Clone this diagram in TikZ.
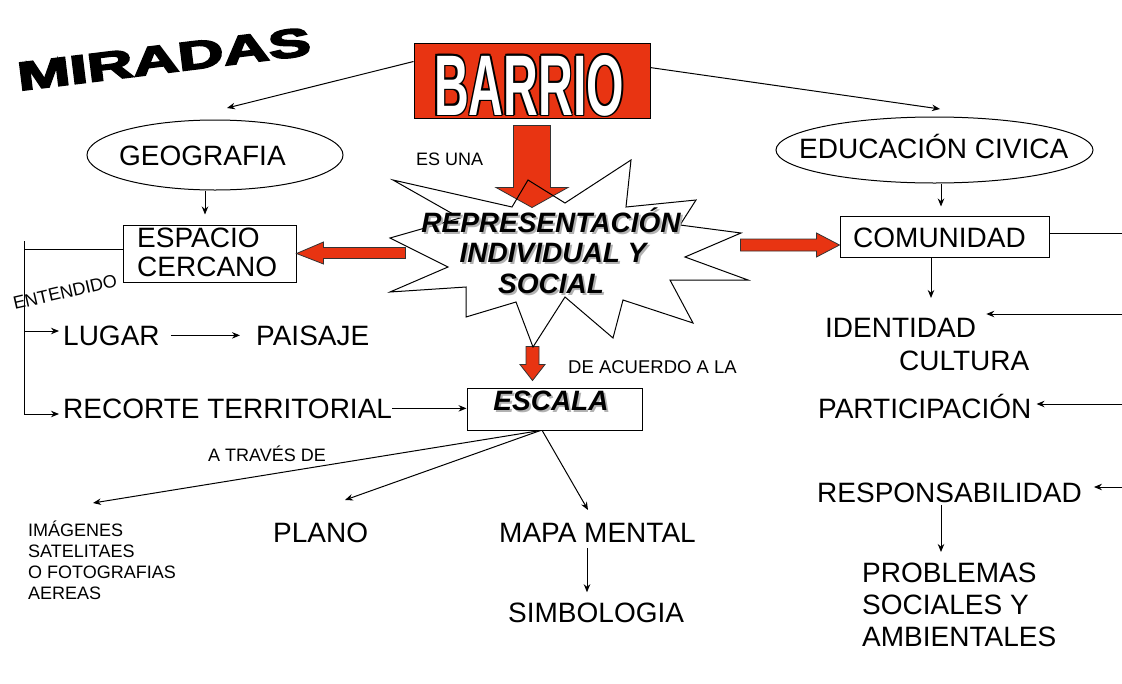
\documentclass[tikz,border=0pt]{standalone}
\usepackage{fontspec}
\setmainfont{Liberation Sans}
\newfontfamily\heavyfont{Liberation Sans}[BoldFeatures={FakeBold=4}]
\usetikzlibrary{arrows.meta,calc,shapes.geometric}
\definecolor{barred}{RGB}{232,52,18}
\begin{document}
\begin{tikzpicture}[x=1pt,y=-1pt,
  txt/.style={inner sep=0pt,anchor=base west,font=\fontsize{28}{32}\selectfont},
  small/.style={inner sep=0pt,anchor=base west,font=\fontsize{18}{21}\selectfont},
  bi/.style={inner sep=0pt,anchor=base,font=\fontsize{28}{32}\selectfont\bfseries\itshape},
  box/.style={draw,line width=1pt,inner sep=0pt},
  ell/.style={draw,ellipse,line width=1pt,inner sep=0pt},
  arr/.style={line width=1pt,-{Stealth[length=8pt,width=6.5pt]}},
  conn/.style={line width=1pt},
  redarrow/.style={fill=barred,draw=black!80,line width=0.8pt,line join=miter},
  barriot/.style={inner sep=0pt,anchor=base,font=\fontsize{86}{86}\selectfont\bfseries,xscale=0.56}
]
\useasboundingbox (0,0) rectangle (1122,683);

% title
\node[inner sep=0pt,font=\heavyfont\bfseries\fontsize{40}{40}\selectfont,rotate=7,xscale=1.58] (miradas) at (164,59) {MIRADAS};

% BARRIO
\node[box,fill=barred,minimum width=236,minimum height=75] (barrio) at (532,80.5) {};
\foreach \dx/\dy in {-1.6/0,1.6/0,0/-1.6,0/1.6,-1.1/-1.1,1.1/1.1,-1.1/1.1,1.1/-1.1}
  \node[barriot,text=black] at ($(529,115)+(\dx,\dy)$) {BARRIO};
\node[barriot,text=white] (barriotxt) at (529,115) {BARRIO};

% ellipses
\node[ell,minimum width=256,minimum height=70] (geo) at (215,155) {};
\node[txt] (geotxt) at (119,165) {GEOGRAFIA};
\node[ell,minimum width=317,minimum height=66] (edu) at (934.5,150) {};
\node[txt] (edutxt) at (799,158) {EDUCACIÓN CIVICA};

% boxes
\node[box,minimum width=173,minimum height=57] (espacio) at (209.5,253.5) {};
\node[txt] (esp1) at (137,247) {ESPACIO};
\node[txt] (esp2) at (137,276) {CERCANO};
\node[box,minimum width=209,minimum height=41] (comunidad) at (944.5,236.5) {};
\node[txt] (comtxt) at (853,247) {COMUNIDAD};
\node[box,minimum width=175,minimum height=42] (escala) at (554.5,409) {};

% red block arrows
\draw[redarrow] ($(barrio.south)+(-18.5,7)$) -- ++(37,0) -- ++(0,62) -- ++(17.5,0) -- ++(-36,20) -- ++(-36,-20) -- ++(17.5,0) -- cycle;
\draw[redarrow] (espacio.east) -- ++(27,-11.5) -- ++(0,5.5) -- ++(82,0) -- ++(0,11) -- ++(-82,0) -- ++(0,5.5) -- cycle;
\draw[redarrow] ($(comunidad.west)+(0,8.5)$) -- ++(-23,-12) -- ++(0,6) -- ++(-76,0) -- ++(0,12) -- ++(76,0) -- ++(0,6) -- cycle;
\draw[redarrow] ($(escala.north west)+(66,-7)$) -- ++(-12.5,-16) -- ++(6,0) -- ++(0,-18) -- ++(13,0) -- ++(0,18) -- ++(6,0) -- cycle;

% star
\draw[line width=1pt,line join=miter] (393,180) -- (512,207) -- (528,180) -- (565,203) -- (631,160) -- (626,207) -- (696,200) -- (680,225) -- (741,233) -- (685,257) -- (748,280) -- (670,280) -- (693,323) -- (623,300) -- (613,338) -- (565,297) -- (533,347) -- (516,302) -- (466,317) -- (466,287) -- (390,292) -- (448,267) -- (390,238) -- (460,218) -- cycle;
\node[bi,text=black!30] at (553,234) {REPRESENTACIÓN};
\node[bi,text=black!30] at (555,264) {INDIVIDUAL Y};
\node[bi,text=black!30] at (553,295) {SOCIAL};
\node[bi] (rep1) at (551,232) {REPRESENTACIÓN};
\node[bi] (rep2) at (553,262) {INDIVIDUAL Y};
\node[bi] (rep3) at (551,293) {SOCIAL};
\node[bi,text=black!30] at (553,412) {ESCALA};
\node[bi] (escalatxt) at (551,410) {ESCALA};

% small labels
\node[small] (esuna) at (416,165) {ES UNA};
\node[small,font=\fontsize{18.5}{21}\selectfont] (deacuerdo) at (568,373) {DE ACUERDO A LA};
\node[small] (atraves) at (208,461) {A TRAVÉS DE};
\node[inner sep=0pt,font=\fontsize{18}{18}\selectfont,rotate=13] (entendido) at (65,292) {ENTENDIDO};

% left texts
\node[txt] (lugar) at (63,345) {LUGAR};
\node[txt] (paisaje) at (256,345) {PAISAJE};
\node[txt] (recorte) at (63,418) {RECORTE TERRITORIAL};

% right texts
\node[txt] (identidad) at (825,337) {IDENTIDAD};
\node[txt] (cultura) at (899,370) {CULTURA};
\node[txt] (participacion) at (818,418) {PARTICIPACIÓN};
\node[txt] (responsabilidad) at (817,502) {RESPONSABILIDAD};
\node[txt,anchor=north west,align=left] (problemas) at (862,563) {PROBLEMAS\\SOCIALES Y\\AMBIENTALES};

% bottom texts
\node[small,anchor=north west,align=left] (imagenes) at (28,521) {IMÁGENES\\SATELITAES\\O FOTOGRAFIAS\\AEREAS};
\node[txt] (plano) at (273,542) {PLANO};
\node[txt] (mapa) at (499,542) {MAPA MENTAL};
\node[txt] (simb) at (508,622) {SIMBOLOGIA};

% coordinates
\coordinate (geotip) at (227,108);
\coordinate (edutip) at (940,109);
\coordinate (gx) at (205,0);
\coordinate (ex) at (941,0);
\coordinate (brjoin) at (24,249);
\coordinate (brtop) at (24,241);
\coordinate (brl) at (24,331);
\coordinate (brbot) at (24,414);
\coordinate (imgtip) at (93,503);
\coordinate (planotip) at (345,500);
\coordinate (mapatip) at (588,510);
\coordinate (msx) at (587,0);
\coordinate (idtip) at (931,298);
\coordinate (rc) at (1122,233);
\coordinate (r1) at (1122,314);
\coordinate (r2) at (1122,404);
\coordinate (r3) at (1122,487);
\coordinate (rpx) at (941,0);

% connectors
\draw[arr] ($(barrio.north west)!0.25!(barrio.south west)$) -- (geotip);
\draw[arr] ($(barrio.north east)!0.33!(barrio.south east)$) -- (edutip);
\draw[arr,shorten >=10pt] (gx |- geo.south) -- (gx |- espacio.north);
\draw[arr,shorten >=9pt] (ex |- edu.south) -- (ex |- comunidad.north);
\draw[conn] (espacio.west |- brjoin) -- (brjoin);
\draw[conn] (brtop) -- (brbot);
\draw[arr,shorten >=4pt] (brl) -- (brl -| lugar.west);
\draw[arr,shorten >=4pt] (brbot) -- (brbot -| recorte.west);
\draw[arr,shorten <=11pt,shorten >=16pt] (lugar.east) -- (paisaje.west);
\draw[arr] (recorte.east) -- (escala.west |- recorte.east);
\coordinate (escs) at ($(escala.south west)!0.42!(escala.south east)$);
\draw[arr] (escs) -- (imgtip);
\draw[arr] (escs) -- (planotip);
\draw[arr] ($(escala.south west)!0.43!(escala.south east)$) -- (mapatip);
\draw[arr,shorten <=6pt,shorten >=10pt] (msx |- mapa.south) -- (msx |- simb.north);
\draw[arr] (idtip |- comunidad.south) -- (idtip);
\draw[conn] (rc -| comunidad.east) -- (rc);
\draw[arr,shorten >=10pt] (r1) -- (r1 -| identidad.east);
\draw[arr,shorten >=5pt] (r2) -- (r2 -| participacion.east);
\draw[arr,shorten >=12pt] (r3) -- (r3 -| responsabilidad.east);
\draw[arr,shorten <=3pt,shorten >=11pt] (rpx |- responsabilidad.south) -- (rpx |- problemas.north);
\end{tikzpicture}
\end{document}
